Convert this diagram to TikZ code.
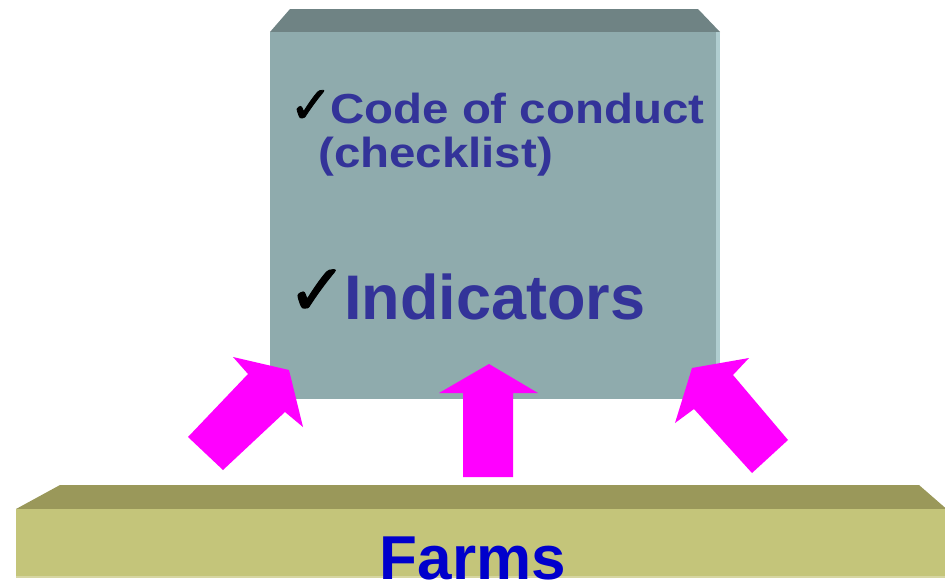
\documentclass[tikz,border=0pt]{standalone}
\usepackage{fontspec}
\setmainfont{Liberation Sans}
\newfontfamily\symfont[FakeBold=1.5]{DejaVu Sans}
\definecolor{boxtop}{HTML}{6F8384}
\definecolor{boxfront}{HTML}{8FABAD}
\definecolor{boxstrip}{HTML}{B0CDD0}
\definecolor{bartop}{HTML}{9A985A}
\definecolor{barfront}{HTML}{C4C57A}
\definecolor{baredge}{HTML}{D6D6A2}
\definecolor{txtblue}{HTML}{333399}
\definecolor{farmblue}{HTML}{0000CC}
\definecolor{arrowmag}{HTML}{FF00FF}
\tikzset{
  boxtext/.style={inner sep=0pt, anchor=base west, text=txtblue, font=\bfseries},
  tick/.style={inner sep=0pt, anchor=base west, text=black},
  bigarrow/.style={fill=arrowmag, draw=none},
}
\begin{document}
\begin{tikzpicture}[x=1pt,y=-1pt]
\useasboundingbox (0,0) rectangle (945,584);
\clip (0,0) rectangle (945,584);
% top box
\fill[boxtop] (290,9) -- (698,9) -- (720,32) -- (270,32) -- cycle;
\fill[boxfront] (270,32) rectangle (720,399);
\fill[boxstrip] (716,32) rectangle (720,399);
% farms bar
\fill[bartop] (60,485) -- (919,485) -- (950,512) -- (16,509) -- cycle;
\fill[barfront] (16,509) rectangle (950,577);
\fill[baredge] (16,576) rectangle (950,578);
% texts
\node[tick] (chk1) at (289,123) {\symfont\fontsize{52}{52}\selectfont ✓};
\node[boxtext] (code) at (330,123) {\fontsize{42}{42}\selectfont\scalebox{1.13}[1]{Code of conduct}};
\node[boxtext] (cklist) at (318,167) {\fontsize{42}{42}\selectfont\scalebox{1.13}[1]{(checklist)}};
\node[tick] (chk2) at (287,315) {\symfont\fontsize{72}{72}\selectfont ✓};
\node[boxtext] (ind) at (344,319) {\fontsize{63}{63}\selectfont Indicators};
\node[inner sep=0pt, anchor=base, text=farmblue, font=\bfseries] (farms) at (473,579) {\fontsize{62}{62}\selectfont Farms};
% arrows
\fill[bigarrow] (489,364) -- (538,393) -- (513,393) -- (513,477) -- (463,477) -- (463,393) -- (439,393) -- cycle;
\fill[bigarrow] (289,370) -- (303,427) -- (285,412) -- (223,470) -- (188,437) -- (248,374) -- (233,357) -- cycle;
\fill[bigarrow] (692,368) -- (749,358) -- (733,375) -- (788,440) -- (752,473) -- (694,409) -- (675,423) -- cycle;
\end{tikzpicture}
\end{document}
